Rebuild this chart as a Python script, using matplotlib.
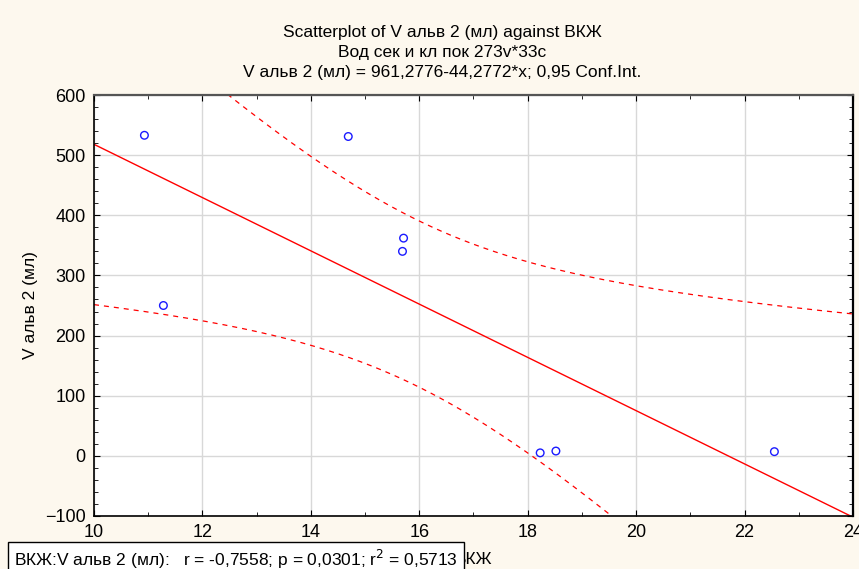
import numpy as np
import matplotlib.pyplot as plt
from matplotlib.ticker import MultipleLocator

plt.rcParams['font.family'] = ['Liberation Sans', 'DejaVu Sans']

# values
vkzh = np.array([10.93, 14.69, 15.71, 15.69, 11.28, 18.23, 18.52, 22.55])
v_alv2 = np.array([533, 531, 362, 340, 250, 5, 8, 7])

title_lines = ["Scatterplot of V альв 2 (мл) against ВКЖ",
               "Вод сек и кл пок 273v*33c",
               "V альв 2 (мл) = 961,2776-44,2772*x; 0,95 Conf.Int."]
stats_text = "ВКЖ:V альв 2 (мл):   r = -0,7558; p = 0,0301; r$^2$ = 0,5713"

T_975_DF6 = 2.4469  # student t, 0.95 two-sided, n-2 = 6

# linear fit + 95% band for the mean
n = len(vkzh)
slope, intercept = np.polyfit(vkzh, v_alv2, 1)
resid = v_alv2 - (intercept + slope * vkzh)
s = np.sqrt(np.sum(resid ** 2) / (n - 2))
sxx = np.sum((vkzh - vkzh.mean()) ** 2)

xs = np.linspace(10, 24, 300)
fit = intercept + slope * xs
half = T_975_DF6 * s * np.sqrt(1 / n + (xs - vkzh.mean()) ** 2 / sxx)

fig = plt.figure(figsize=(8.59, 5.69), dpi=100, facecolor="#fdf8ee")
ax = fig.add_axes([94 / 859, 1 - 516 / 569, 759 / 859, 421 / 569])
ax.set_facecolor("white")

ax.plot(xs, fit, color="red", lw=1.0)
ax.plot(xs, fit + half, color="red", lw=0.9, ls=(0, (4, 4)))
ax.plot(xs, fit - half, color="red", lw=0.9, ls=(0, (4, 4)))
ax.scatter(vkzh, v_alv2, s=30, facecolors="none", edgecolors="#1a1aff", lw=1.0, zorder=3)

ax.set_xlim(10, 24)
ax.set_ylim(-100, 600)
ax.xaxis.set_major_locator(MultipleLocator(2))
ax.xaxis.set_minor_locator(MultipleLocator(1))
ax.yaxis.set_major_locator(MultipleLocator(100))
ax.yaxis.set_minor_locator(MultipleLocator(20))
ax.tick_params(which="both", direction="in", top=True, right=True, labelsize=13, pad=6)
ax.tick_params(which="major", length=4)
ax.tick_params(which="minor", length=3)
ax.grid(True, which="major", color="#d8d8d8", lw=1.0)
ax.set_axisbelow(True)
for side in ["left", "bottom"]:
    ax.spines[side].set_color("black")
    ax.spines[side].set_linewidth(1.2)
ax.spines["top"].set_color("#555555")
ax.spines["top"].set_linewidth(1.6)
ax.spines["right"].set_color("black")
ax.spines["right"].set_linewidth(1.6)

ax.set_ylabel("V альв 2 (мл)", fontsize=12.5, labelpad=5)
ax.set_xlabel("ВКЖ", fontsize=12.5, labelpad=8)

for i, line in enumerate(title_lines):
    fig.text(442 / 859, 1 - (32 + 20 * i) / 569, line, ha="center", va="center", fontsize=12.5)

fig.text(14 / 859, 1 - 559.5 / 569, stats_text, ha="left", va="center", fontsize=12.5,
         bbox=dict(boxstyle="square,pad=0.35", fc="white", ec="black", lw=1.0))

fig.savefig("out.png", dpi=100, facecolor=fig.get_facecolor())
